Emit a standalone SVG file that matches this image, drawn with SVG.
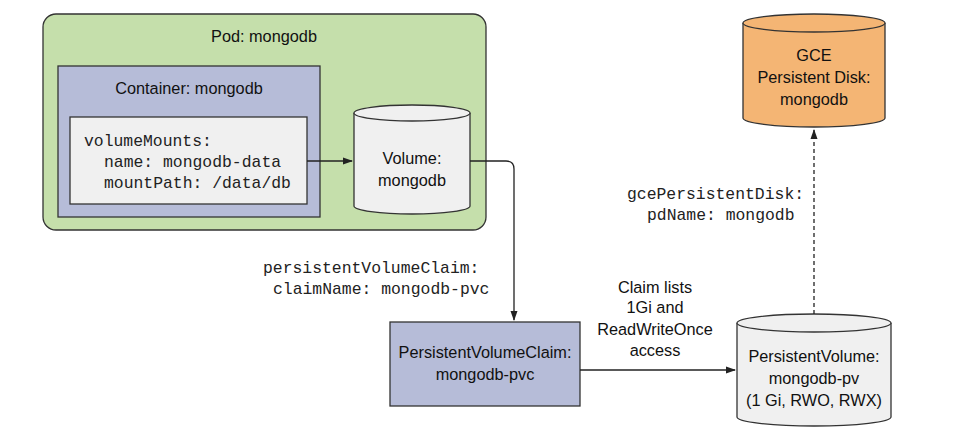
<svg xmlns="http://www.w3.org/2000/svg" width="960" height="444" viewBox="0 0 960 444">
<style>
text{font-family:"Liberation Sans",Arial,sans-serif;font-size:16.3px;fill:#111;text-anchor:middle}
.m{font-family:"Liberation Mono","Courier New",monospace;font-size:16.4px;text-anchor:start;fill:#222}
.s{stroke:#333;stroke-width:1.3}
.c{stroke:#222;stroke-width:1.3;fill:none}
</style>
<defs><marker id="a" markerWidth="10" markerHeight="8" refX="9" refY="4" orient="auto" markerUnits="userSpaceOnUse"><path d="M0,0.5 L10,4 L0,7.5z" fill="#222"/></marker></defs>
<g id="pod"><rect x="43" y="14" width="443" height="216" rx="13" fill="#c5dfab" class="s"/><text x="264" y="42">Pod: mongodb</text></g>
<g id="container"><rect x="58" y="66" width="262" height="151" fill="#b6bcd8" class="s"/><text x="189" y="94">Container: mongodb</text></g>
<g id="mounts"><rect x="70" y="117" width="237" height="87" fill="#f0f0f0" class="s"/>
<text class="m" x="84" y="146">volumeMounts:</text><text class="m" x="104" y="167">name: mongodb-data</text><text class="m" x="104" y="188">mountPath: /data/db</text></g>
<g id="volume"><path d="M354,113 V206 A58,8 0 0 0 470,206 V113" fill="#f0f0f0" class="s"/><ellipse cx="412" cy="113" rx="58" ry="8" fill="#f0f0f0" class="s"/>
<text x="412" y="164">Volume:</text><text x="412" y="186">mongodb</text></g>
<g id="pvc"><rect x="390" y="322" width="190" height="84" fill="#b6bcd8" class="s"/><text x="485" y="358">PersistentVolumeClaim:</text><text x="485" y="380">mongodb-pvc</text></g>
<g id="pv"><path d="M737,323 V417 A77,9 0 0 0 891,417 V323" fill="#f0f0f0" class="s"/><ellipse cx="814" cy="323" rx="77" ry="9" fill="#f0f0f0" class="s"/>
<text x="814" y="362">PersistentVolume:</text><text x="814" y="384">mongodb-pv</text><text x="814" y="406">(1 Gi, RWO, RWX)</text></g>
<g id="gce"><path d="M743,23 V118 A71,9 0 0 0 885,118 V23" fill="#f4b574" class="s"/><ellipse cx="814" cy="23" rx="71" ry="9" fill="#f4b574" class="s"/>
<text x="814" y="61">GCE</text><text x="814" y="83">Persistent Disk:</text><text x="814" y="105">mongodb</text></g>
<g id="connectors">
<path class="c" d="M307,161 H352" marker-end="url(#a)"/>
<path class="c" d="M470,161 H506 Q514,161 514,169 V320" marker-end="url(#a)"/>
<path class="c" d="M580,370 H735" marker-end="url(#a)"/>
<path class="c" d="M814,314 V130" stroke-dasharray="4,3" marker-end="url(#a)"/>
</g>
<g id="labels">
<text class="m" x="263" y="273">persistentVolumeClaim:</text><text class="m" x="273" y="294">claimName: mongodb-pvc</text>
<text class="m" x="627" y="199">gcePersistentDisk:</text><text class="m" x="647" y="220">pdName: mongodb</text>
<text x="655" y="293">Claim lists</text><text x="655" y="313">1Gi and</text><text x="655" y="335">ReadWriteOnce</text><text x="655" y="356">access</text>
</g>
</svg>
